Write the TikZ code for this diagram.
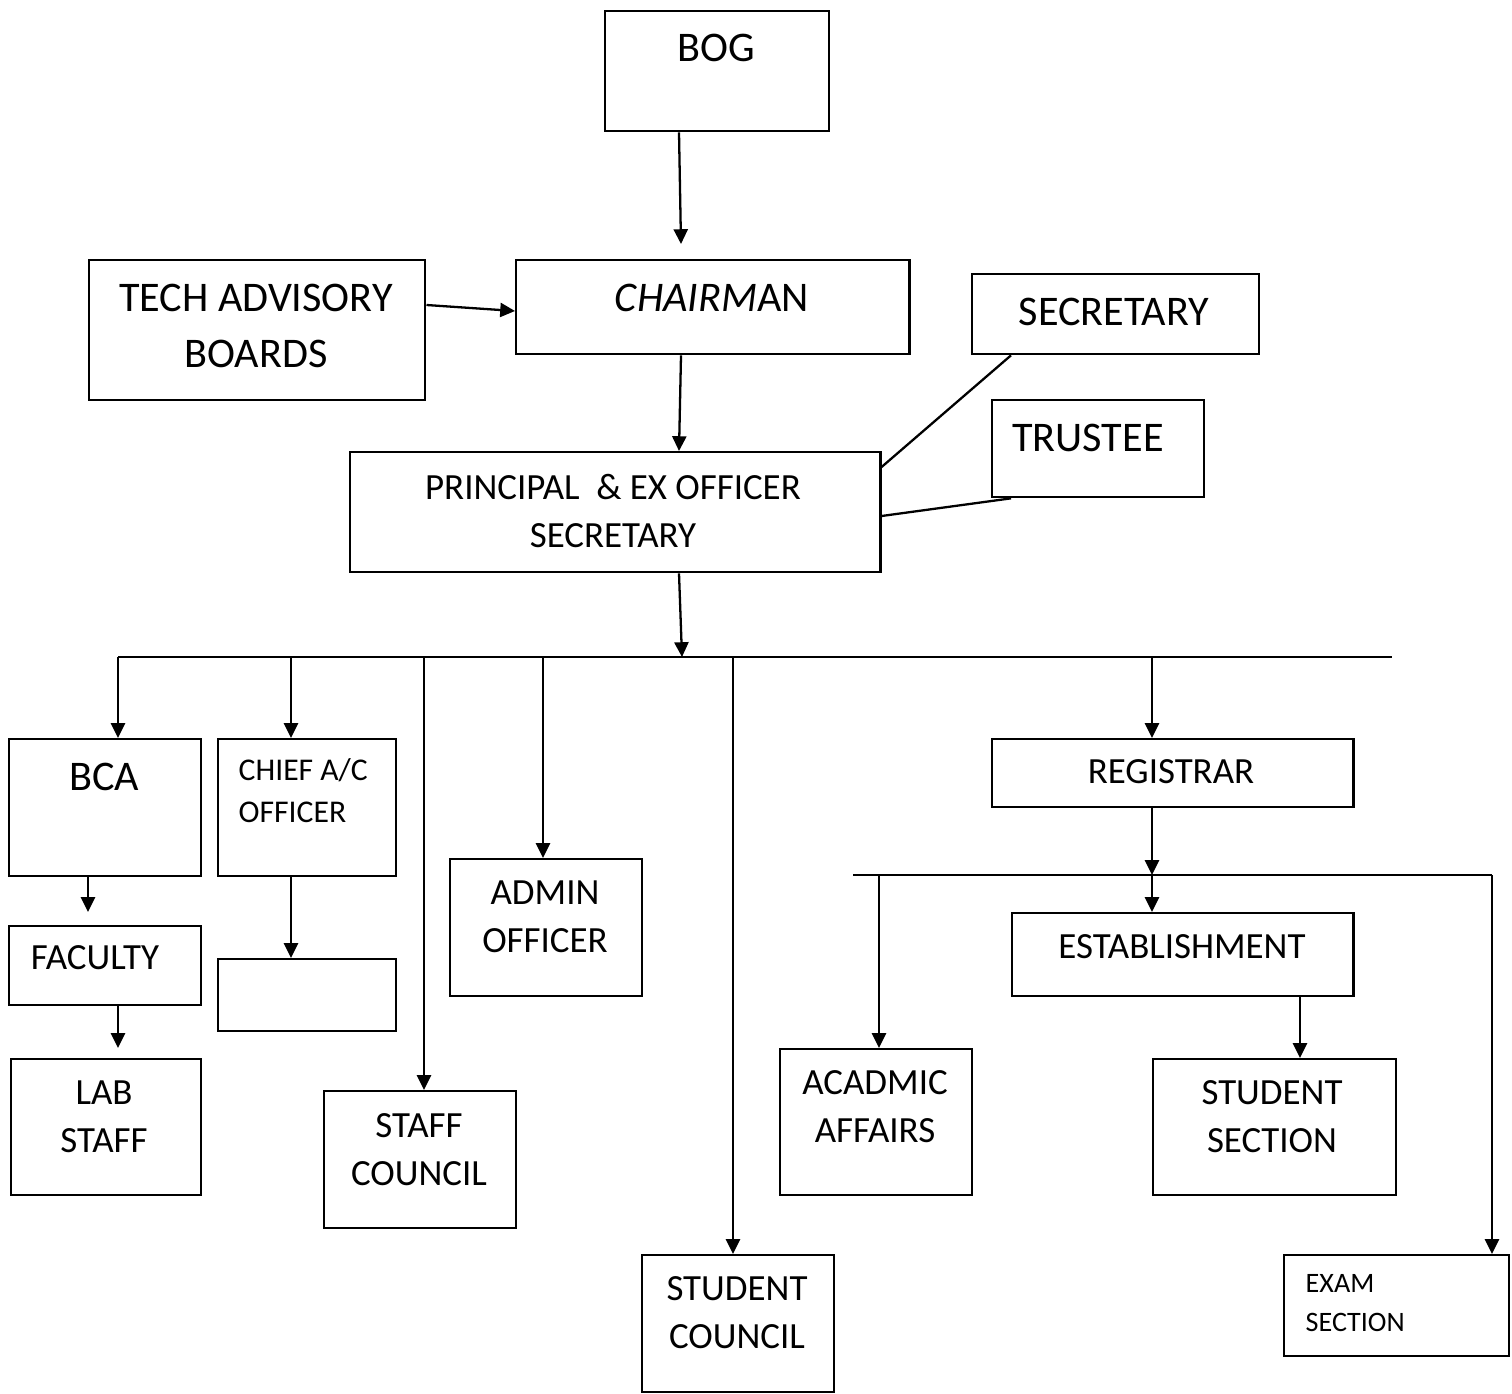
\documentclass[tikz,border=0pt]{standalone}
\usepackage{fontspec}
\setmainfont{Carlito}
\usetikzlibrary{arrows.meta,calc}

\tikzset{
  box/.style={draw, line width=0.65pt, anchor=north west, inner sep=0pt},
  arr/.style={-{Triangle[length=4.2pt,width=4pt]}, line width=0.65pt},
  wire/.style={line width=0.65pt},
  big/.style={font=\fontsize{12}{15.9}\selectfont, align=center, inner sep=0pt},
  mid/.style={font=\fontsize{10.5}{13.6}\selectfont, align=center, inner sep=0pt},
  small/.style={font=\fontsize{9}{11.9}\selectfont, align=left, anchor=west, inner sep=0pt},
  tiny/.style={font=\fontsize{8}{11.3}\selectfont, align=left, anchor=west, inner sep=0pt}
}

\begin{document}
\begin{tikzpicture}[x=0.01cm, y=-0.01cm]
  \useasboundingbox (0,0) rectangle (1512,1394);

  % top of the chart
  \node[box, minimum width=2.24cm, minimum height=1.20cm] (bog) at (604,10) {};
  \node[box, minimum width=3.93cm, minimum height=0.94cm] (chair) at (515,259) {};
  \node[box, minimum width=3.36cm, minimum height=1.40cm] (tech) at (88,259) {};
  \node[box, minimum width=2.87cm, minimum height=0.80cm] (secy) at (971,273) {};
  \node[box, minimum width=2.12cm, minimum height=0.97cm] (trust) at (991,399) {};
  \node[box, minimum width=5.30cm, minimum height=1.20cm] (prin) at (349,451) {};

  \node[big] (bogtxt) at (716,48) {BOG};
  \node[big] (chairtxt) at (712,298) {\textit{CHAIRM}AN};
  \node[big] (techtxt) at (256,326) {TECH ADVISORY\\BOARDS};
  \node[big] (secytxt) at (1114,312) {SECRETARY};
  \node[big] (trusttxt) at (1088,438) {TRUSTEE};
  \node[mid] (printxt) at (613,511) {PRINCIPAL\ \ \& EX OFFICER\\SECRETARY};

  \draw[arr] ($(bog.south west)+(75,0)$) -- ($(chair.north west)+(166,-15)$);
  \draw[arr] ($(tech.north east)+(0,46)$) -- ($(chair.north west)+(0,52)$);
  \draw[arr] ($(chair.south west)+(166,0)$) -- ($(prin.north west)+(330,0)$);
  \draw[wire] ($(secy.south west)+(40,0)$) -- ($(prin.north east)+(0,16)$);
  \draw[wire] ($(trust.south west)+(20,0)$) -- ($(prin.north east)+(0,65)$);

  % main bus
  \coordinate (bus) at (682,657);
  \coordinate (busL) at (118,657);
  \coordinate (busR) at (1392,657);
  \coordinate (tChief) at (291,657);
  \coordinate (tStaff) at (424,657);
  \coordinate (tAdmin) at (543,657);
  \coordinate (tStuc) at (733,657);
  \coordinate (tReg) at (1152,657);
  \draw[arr] ($(prin.south west)+(330,0)$) -- (bus);
  \draw[wire] (busL) -- (busR);

  % branches
  \node[box, minimum width=1.92cm, minimum height=1.37cm] (bca) at (8,738) {};
  \node[box, minimum width=1.92cm, minimum height=0.79cm] (fac) at (8,925) {};
  \node[box, minimum width=1.90cm, minimum height=1.36cm] (lab) at (10,1058) {};
  \node[box, minimum width=1.78cm, minimum height=1.37cm] (chief) at (217,738) {};
  \node[box, minimum width=1.78cm, minimum height=0.72cm] (blank) at (217,958) {};
  \node[box, minimum width=1.92cm, minimum height=1.37cm] (staff) at (323,1090) {};
  \node[box, minimum width=1.92cm, minimum height=1.37cm] (admin) at (449,858) {};
  \node[box, minimum width=1.92cm, minimum height=1.37cm] (stuc) at (641,1254) {};
  \node[box, minimum width=3.61cm, minimum height=0.68cm] (reg) at (991,738) {};

  \node[big] (bcatxt) at (104,777) {BCA};
  \node[mid] (factxt) at (95,958) {FACULTY};
  \node[mid] (labtxt) at (104,1117) {LAB\\STAFF};
  \node[small] (chieftxt) at (238,791) {CHIEF A/C\\OFFICER};
  \node[mid] (stafftxt) at (419,1150) {STAFF\\COUNCIL};
  \node[mid] (admintxt) at (545,917) {ADMIN\\OFFICER};
  \node[mid] (stuctxt) at (737,1313) {STUDENT\\COUNCIL};
  \node[mid] (regtxt) at (1171,772) {REGISTRAR};

  \draw[arr] (busL) -- (bca.north -| busL);
  \draw[arr] (tChief) -- (chief.north -| tChief);
  \draw[arr] (tStaff) -- (staff.north -| tStaff);
  \draw[arr] (tAdmin) -- (admin.north -| tAdmin);
  \draw[arr] (tStuc) -- (stuc.north -| tStuc);
  \draw[arr] (tReg) -- (reg.north -| tReg);
  \draw[arr] ($(bca.south west)+(80,0)$) -- ($(fac.north west)+(80,-13)$);
  \draw[arr] ($(fac.south west)+(110,0)$) -- ($(lab.north west)+(108,-10)$);
  \draw[arr] (chief.south -| tChief) -- (blank.north -| tChief);

  % registrar bus
  \coordinate (hub) at (1152,875);
  \coordinate (subL) at (853,875);
  \coordinate (subR) at (1492,875);
  \coordinate (tAcad) at (879,875);
  \draw[arr] (reg.south -| hub) -- (hub);
  \draw[wire] (subL) -- (subR);

  \node[box, minimum width=1.92cm, minimum height=1.46cm] (acad) at (779,1048) {};
  \node[box, minimum width=3.41cm, minimum height=0.83cm] (estb) at (1011,912) {};
  \node[box, minimum width=2.43cm, minimum height=1.36cm] (stsec) at (1152,1058) {};
  \node[box, minimum width=2.25cm, minimum height=1.01cm] (exam) at (1283,1254) {};

  \node[mid] (acadtxt) at (875,1107) {ACADMIC\\AFFAIRS};
  \node[mid] (estbtxt) at (1182,947) {ESTABLISHMENT};
  \node[mid] (stsectxt) at (1272,1117) {STUDENT\\SECTION};
  \node[tiny] (examtxt) at (1305,1303) {EXAM\\SECTION};

  \draw[arr] (hub) -- (estb.north -| hub);
  \draw[arr] (tAcad) -- (acad.north -| tAcad);
  \draw[arr] (subR) -- (exam.north -| subR);
  \draw[arr] ($(estb.south west)+(289,0)$) -- ($(stsec.north west)+(148,0)$);
\end{tikzpicture}
\end{document}
